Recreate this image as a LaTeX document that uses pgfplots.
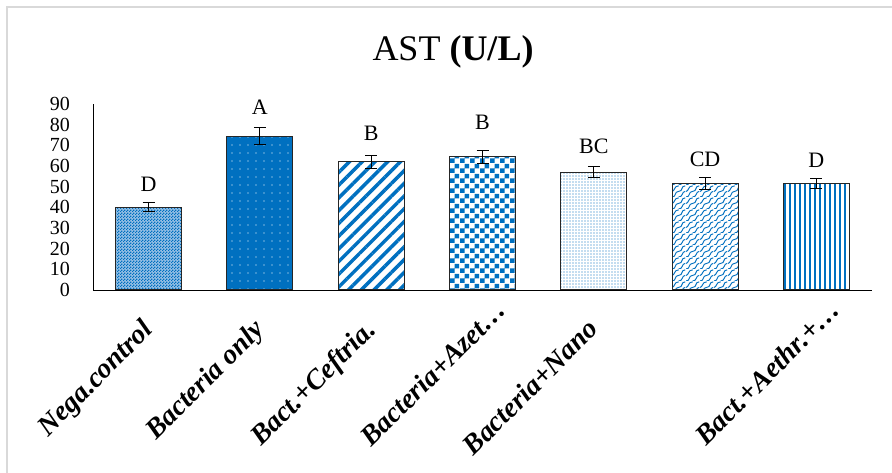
\documentclass[border=0pt]{standalone}
\usepackage{fontspec}
\setmainfont{Liberation Serif}
\usepackage{pgfplots}
\pgfplotsset{compat=1.18}
\usetikzlibrary{patterns,patterns.meta}
\definecolor{xblue}{RGB}{0,112,192}
\definecolor{frame}{RGB}{217,217,217}

\pgfdeclarepatternformonly{bigchecker}{\pgfpointorigin}{\pgfqpoint{10pt}{10pt}}{\pgfqpoint{10pt}{10pt}}{%
  \pgfpathrectangle{\pgfpointorigin}{\pgfqpoint{5pt}{5pt}}%
  \pgfpathrectangle{\pgfqpoint{5pt}{5pt}}{\pgfqpoint{5pt}{5pt}}%
  \pgfusepath{fill}}
\pgfdeclarepatternformonly{finechecker}{\pgfpointorigin}{\pgfqpoint{3pt}{3pt}}{\pgfqpoint{3pt}{3pt}}{%
  \pgfpathrectangle{\pgfpointorigin}{\pgfqpoint{1.5pt}{1.5pt}}%
  \pgfpathrectangle{\pgfqpoint{1.5pt}{1.5pt}}{\pgfqpoint{1.5pt}{1.5pt}}%
  \pgfusepath{fill}}
\pgfdeclarepatternformonly{scales}{\pgfpointorigin}{\pgfqpoint{14pt}{12pt}}{\pgfqpoint{14pt}{12pt}}{%
  \pgfsetlinewidth{1pt}%
  \pgfpathmoveto{\pgfqpoint{0pt}{0pt}}%
  \pgfpathcurveto{\pgfqpoint{5pt}{0pt}}{\pgfqpoint{2pt}{6pt}}{\pgfqpoint{7pt}{6pt}}%
  \pgfpathcurveto{\pgfqpoint{12pt}{6pt}}{\pgfqpoint{9pt}{12pt}}{\pgfqpoint{14pt}{12pt}}%
  \pgfpathmoveto{\pgfqpoint{0pt}{6pt}}%
  \pgfpathcurveto{\pgfqpoint{3pt}{6pt}}{\pgfqpoint{2pt}{12pt}}{\pgfqpoint{7pt}{12pt}}%
  \pgfpathmoveto{\pgfqpoint{7pt}{0pt}}%
  \pgfpathcurveto{\pgfqpoint{12pt}{0pt}}{\pgfqpoint{10pt}{6pt}}{\pgfqpoint{14pt}{6pt}}%
  \pgfusepath{stroke}}

\begin{document}
\begin{tikzpicture}[x=1pt,y=1pt]
\useasboundingbox (0,0) rectangle (892,473);
\draw[frame, line width=2pt] (7,0) -- (7,466) -- (892,466);
\node[font=\fontsize{36}{40}\selectfont] at (453,421) {AST \textbf{(U/L)}};
\begin{axis}[
  at={(93pt,183pt)}, anchor=south west,
  scale only axis, width=779pt, height=186pt,
  xmin=-0.5, xmax=6.5, ymin=0, ymax=90,
  axis x line=bottom, axis y line=left,
  axis line style={black, line width=0.8pt, -},
  ytick={0,10,...,90},
  xtick={0,...,6},
  xticklabels={Nega.control, Bacteria only, Bact.+Ceftria., {Bacteria+Azet…\hspace*{-27pt}}, Bacteria+Nano, {}, {Bact.+Aethr.+…\hspace*{-27pt}}},
  major tick length=0pt,
  /pgf/number format/assume math mode=true,
  yticklabel style={font=\fontsize{20}{22}\selectfont, anchor=east, inner sep=0pt},
  yticklabel shift=23pt,
  xticklabel style={font=\fontsize{28}{30}\selectfont\bfseries\itshape, xshift=-8pt, rotate=45, anchor=north east, inner sep=0pt},
  xticklabel shift=27pt,
  clip=false,
  every axis plot/.append style={ybar, bar width=66pt, bar shift=0pt, draw=black!85, line width=1pt,
    error bars/y dir=both, error bars/y explicit,
    error bars/error bar style={black, line width=1pt},
    error bars/error mark options={rotate=90, mark size=6pt, black, line width=1pt}},
]
\addplot[fill={rgb,255:red,150;green,192;blue,228}, postaction={pattern=finechecker, pattern color=xblue}]
  coordinates {(0,40) +- (0,2.2)};
\addplot[fill=xblue, postaction={pattern={Dots[distance=8pt, radius=0.6pt]}, pattern color=white}]
  coordinates {(1,74.4) +- (0,4)};
\addplot[fill=white, postaction={pattern={Lines[angle=45, distance=9pt, line width=3.5pt]}, pattern color=xblue}]
  coordinates {(2,62) +- (0,3)};
\addplot[fill=white, postaction={pattern=bigchecker, pattern color=xblue}]
  coordinates {(3,64.4) +- (0,3)};
\addplot[fill=white, postaction={pattern={Dots[distance=3pt, radius=0.55pt]}, pattern color=xblue}]
  coordinates {(4,57) +- (0,2.8)};
\addplot[fill=white, postaction={pattern=scales, pattern color=xblue}]
  coordinates {(5,51.4) +- (0,2.8)};
\addplot[fill=white, postaction={pattern={Lines[angle=90, distance=5pt, line width=2.5pt]}, pattern color=xblue}]
  coordinates {(6,51.4) +- (0,2.4)};
\begin{scope}[every node/.style={font=\fontsize{22}{24}\selectfont}]
\node at (axis cs:0,51.2) {D};
\node at (axis cs:1,88.4) {A};
\node at (axis cs:2,75.8) {B};
\node at (axis cs:3,81.2) {B};
\node at (axis cs:4,69.6) {BC};
\node at (axis cs:5,63.3) {CD};
\node at (axis cs:6,62.8) {D};
\end{scope}
\end{axis}
\end{tikzpicture}
\end{document}
